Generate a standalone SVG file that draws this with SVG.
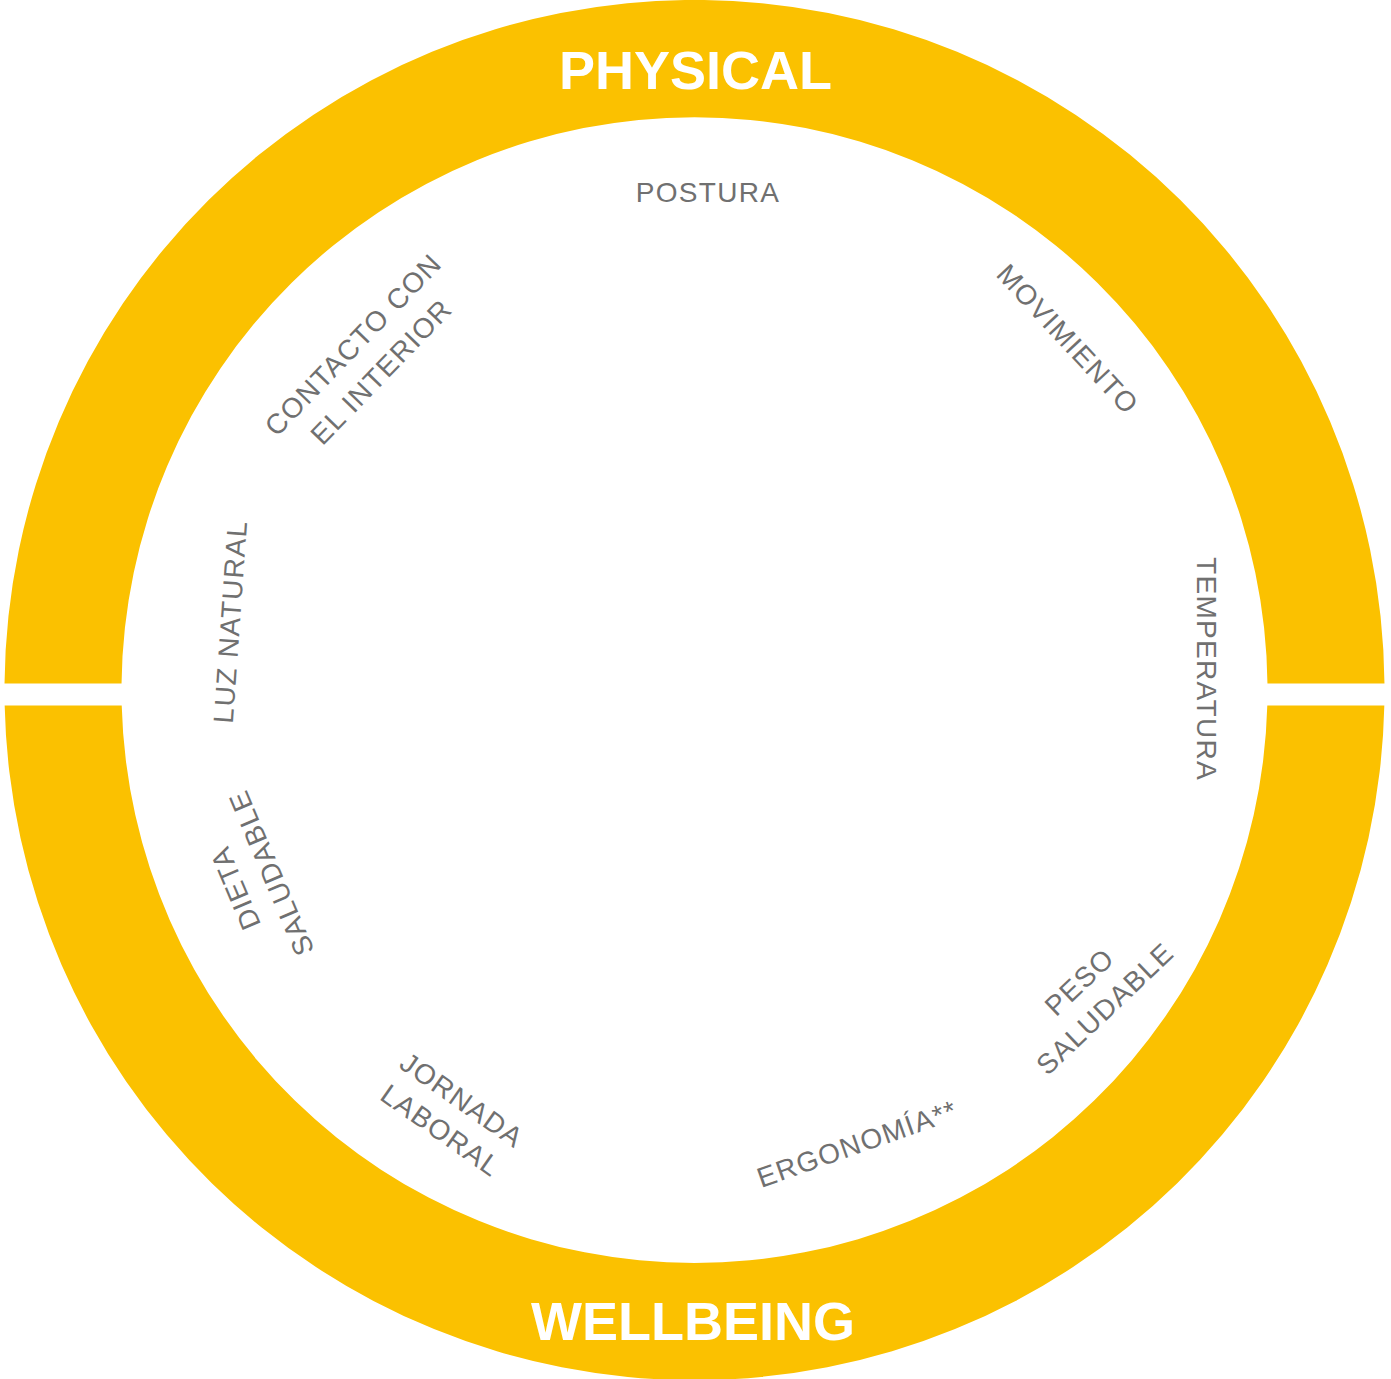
<svg xmlns="http://www.w3.org/2000/svg" width="1391" height="1379" viewBox="0 0 1391 1379">
<style>
.ring{fill:#FBC100}
.title{font-family:"Liberation Sans",Arial,sans-serif;font-weight:bold;font-size:54px;fill:#FFFFFF;text-anchor:middle}
.lbl{font-family:"Liberation Sans",Arial,sans-serif;font-size:28px;fill:#707070;text-anchor:middle;letter-spacing:1.3px}
</style>
<rect width="1391" height="1379" fill="#FFFFFF"/>
<g id="ring">
<path id="physical-half" class="ring" d="M 4.53 683.5 A 690 690 0 0 1 1384.47 683.5 L 1267.46 683.5 A 573 573 0 0 0 121.54 683.5 Z"/>
<path id="wellbeing-half" class="ring" d="M 1384.33 705.5 A 690 690 0 0 1 4.67 705.5 L 121.71 705.5 A 573 573 0 0 0 1267.29 705.5 Z"/>
</g>
<g id="titles">
<text id="physical" class="title" x="695.5" y="89">PHYSICAL</text>
<text id="wellbeing" class="title" x="693" y="1340">WELLBEING</text>
</g>
<g id="labels">
<g id="postura" transform="translate(708,192)"><text class="lbl" y="10">POSTURA</text></g>
<g id="movimiento" transform="translate(1068,339) rotate(47)"><text class="lbl" y="10">MOVIMIENTO</text></g>
<g id="temperatura" transform="translate(1206.7,669) rotate(90)"><text class="lbl" y="10">TEMPERATURA</text></g>
<g id="peso" transform="translate(1092,995) rotate(-43.5)"><text class="lbl"><tspan x="0" y="-8.5">PESO</tspan><tspan x="0" y="28.5">SALUDABLE</tspan></text></g>
<g id="ergonomia" transform="translate(857,1143.5) rotate(-19.5)"><text class="lbl" y="10">ERGONOMÍA**</text></g>
<g id="jornada" transform="translate(451.5,1115) rotate(35)"><text class="lbl"><tspan x="0" y="-8.5">JORNADA</tspan><tspan x="0" y="28.5">LABORAL</tspan></text></g>
<g id="dieta" transform="translate(253,880.75) rotate(-113)"><text class="lbl"><tspan x="0" y="-9.5">DIETA</tspan><tspan x="0" y="29.5">SALUDABLE</tspan></text></g>
<g id="luz" transform="translate(230,621.7) rotate(-86)"><text class="lbl" y="10">LUZ NATURAL</text></g>
<g id="contacto" transform="translate(367,358) rotate(-46)"><text class="lbl"><tspan x="0" y="-9.5">CONTACTO CON</tspan><tspan x="0" y="29.5">EL INTERIOR</tspan></text></g>
</g>
</svg>
